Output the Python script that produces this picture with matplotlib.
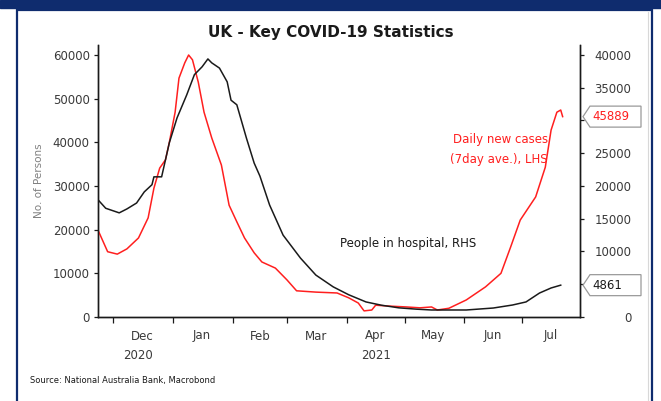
import numpy as np
import pandas as pd
import matplotlib
matplotlib.use("Agg")
import matplotlib.pyplot as plt
import matplotlib.transforms as mtransforms
from matplotlib.patches import Rectangle, Polygon

# daily new cases, 7 day average (LHS)
case_dates = ["2020-11-23", "2020-11-28", "2020-12-03", "2020-12-08", "2020-12-14",
              "2020-12-19", "2020-12-22", "2020-12-25", "2020-12-28", "2020-12-30",
              "2021-01-02", "2021-01-04", "2021-01-07", "2021-01-09", "2021-01-11",
              "2021-01-14", "2021-01-17", "2021-01-21", "2021-01-26", "2021-01-30",
              "2021-02-03", "2021-02-07", "2021-02-12", "2021-02-16", "2021-02-23",
              "2021-03-01", "2021-03-06", "2021-03-16", "2021-03-27", "2021-04-02",
              "2021-04-07", "2021-04-10", "2021-04-14", "2021-04-16", "2021-04-23",
              "2021-05-02", "2021-05-09", "2021-05-15", "2021-05-18", "2021-05-24",
              "2021-06-02", "2021-06-12", "2021-06-20", "2021-06-25", "2021-06-30",
              "2021-07-08", "2021-07-13", "2021-07-16", "2021-07-19", "2021-07-21",
              "2021-07-22"]
cases = [19900, 14950, 14400, 15600, 18100,
         22700, 29500, 34100, 36000, 40000,
         46900, 54700, 58200, 60000, 58900,
         53800, 46900, 41000, 34800, 25600,
         21800, 18100, 14700, 12600, 11200,
         8500, 6000, 5700, 5500, 4400,
         3200, 1400, 1600, 2700, 2500,
         2300, 2100, 2300, 1600, 2000,
         3900, 6900, 10000, 16000, 22200,
         27500, 34300, 42800, 46900, 47400,
         45889]

# people in hospital (RHS)
hosp_dates = ["2020-11-23", "2020-11-27", "2020-11-30", "2020-12-04", "2020-12-08",
              "2020-12-13", "2020-12-17", "2020-12-21", "2020-12-22", "2020-12-26",
              "2020-12-30", "2021-01-03", "2021-01-08", "2021-01-12", "2021-01-16",
              "2021-01-19", "2021-01-21", "2021-01-25", "2021-01-29", "2021-01-31",
              "2021-02-03", "2021-02-08", "2021-02-12", "2021-02-15", "2021-02-20",
              "2021-02-27", "2021-03-08", "2021-03-16", "2021-03-25", "2021-04-02",
              "2021-04-11", "2021-04-19", "2021-04-28", "2021-05-07", "2021-05-15",
              "2021-06-02", "2021-06-16", "2021-06-26", "2021-07-03", "2021-07-10",
              "2021-07-16", "2021-07-21"]
hospital = [17900, 16600, 16300, 15900, 16500,
            17400, 19100, 20200, 21400, 21400,
            26600, 30400, 33900, 37000, 38200,
            39400, 38800, 38000, 35900, 33100,
            32400, 27300, 23500, 21500, 17100,
            12500, 9000, 6400, 4600, 3400,
            2300, 1800, 1400, 1200, 1070,
            1070, 1370, 1830, 2300, 3660,
            4430, 4861]

left_ticks = [0, 10000, 20000, 30000, 40000, 50000, 60000]
right_ticks = [0, 5000, 10000, 15000, 20000, 25000, 30000, 35000, 40000]
# 5000 and 30000 sit under the value tags, so they carry no label
right_labels = ["0", "", "10000", "15000", "20000", "25000", "", "35000", "40000"]
month_starts = ["2020-12-01", "2021-01-01", "2021-02-01", "2021-03-01", "2021-04-01",
                "2021-05-01", "2021-06-01", "2021-07-01"]
month_mids = ["2020-12-16", "2021-01-16", "2021-02-15", "2021-03-16", "2021-04-16",
              "2021-05-16", "2021-06-16", "2021-07-16"]
month_names = ["Dec", "Jan", "Feb", "Mar", "Apr", "May", "Jun", "Jul"]
years = ["2020", "2021"]
year_pos = ["2020-12-14", "2021-04-16"]

RED = "#ff1f1f"
INK = "#1a1a1a"
TXT = "#3a3a3a"
NAVY = "#0f2c6e"

plt.rcParams["font.family"] = ["DejaVu Sans"]

fig = plt.figure(figsize=(6.61, 4.01), dpi=100)
W, H = 661, 401

# frame
fig.patches.append(Rectangle((0, 1 - 8 / H), 1, 8 / H, transform=fig.transFigure,
                             color=NAVY, zorder=0))
fig.patches.append(Rectangle((16.5 / W, -0.01), (652 - 16.5) / W, (391.5 + 4) / H,
                             transform=fig.transFigure, fill=False,
                             edgecolor=NAVY, lw=1.6, zorder=0))
fig.add_artist(plt.Line2D([648 / W, 648 / W], [0, 1 - 12 / H], transform=fig.transFigure,
                          color="#d8d8d8", lw=0.8))

ax = fig.add_axes([98 / W, 1 - 317 / H, (580 - 98) / W, (317 - 45) / H])
ax2 = ax.twinx()

cd = pd.to_datetime(case_dates)
hd = pd.to_datetime(hosp_dates)
ax.plot(cd, cases, color=RED, lw=1.1, zorder=3)
ax2.plot(hd, hospital, color=INK, lw=1.1)

ax.set_xlim(pd.Timestamp("2020-11-23"), pd.Timestamp("2021-07-31"))
ax.set_ylim(0, 62290)
ax2.set_ylim(0, 62290 * 40000 / 60000)
ax.set_yticks(left_ticks)
ax2.set_yticks(right_ticks)
ax2.set_yticklabels(right_labels)

for a in (ax, ax2):
    a.spines["top"].set_visible(False)
    for s in ("left", "right", "bottom"):
        a.spines[s].set_color(INK)
        a.spines[s].set_linewidth(1.0)
    a.tick_params(axis="y", labelsize=8.5, labelcolor=TXT, length=3, width=0.9,
                  color=INK, pad=3)
ax2.tick_params(axis="y", pad=34)
for lab in ax2.get_yticklabels():
    lab.set_horizontalalignment("right")

ax.set_xticks(pd.to_datetime(month_starts))
ax.set_xticklabels([])
ax.set_xticks(pd.to_datetime(month_mids), minor=True)
ax.set_xticklabels(month_names, minor=True)
ax.tick_params(axis="x", which="major", length=4, width=0.9, color=INK)
ax.tick_params(axis="x", which="minor", length=0, labelsize=8.5, labelcolor=TXT, pad=9)

btrans = mtransforms.blended_transform_factory(ax.transData, ax.transAxes)
for y, p in zip(years, pd.to_datetime(year_pos)):
    ax.text(p, -0.14, y, transform=btrans, ha="center", va="center",
            fontsize=8.5, color=TXT)

ax.set_ylabel("No. of Persons", fontsize=7.5, color="#808080", labelpad=6)

fig.text(331 / W, 1 - 33 / H, "UK - Key COVID-19 Statistics", ha="center", va="center",
         fontsize=11, fontweight="bold", color=INK)

fig.text(548 / W, 1 - 140 / H, "Daily new cases", color=RED, fontsize=8.5,
         ha="right", va="center")
fig.text(548 / W, 1 - 160 / H, "(7day ave.), LHS", color=RED, fontsize=8.5,
         ha="right", va="center")
fig.text(340 / W, 1 - 244 / H, "People in hospital, RHS", color=INK, fontsize=8.5,
         ha="left", va="center")

fig.text(30 / W, 1 - 380 / H, "Source: National Australia Bank, Macrobond", fontsize=6,
         color=INK, ha="left", va="center")

# value tags on the right axis
fig.canvas.draw()
def tag(yval, label, color, axis):
    _, ypix = axis.transData.transform((0, yval))
    x0, x1, h = 590, 641, 10.5
    xs = [583, x0, x1, x1, x0]
    ys = [ypix, ypix + h, ypix + h, ypix - h, ypix - h]
    poly = Polygon(list(zip(xs, ys)), closed=True, transform=None, facecolor="white",
                   edgecolor="#9a9a9a", lw=0.9, clip_on=False)
    fig.patches.append(poly)
    fig.text((x0 + 2) / W, ypix / H, label, color=color, fontsize=8.5, ha="left",
             va="center")

tag(cases[-1], f"{cases[-1]}", RED, ax)
tag(hospital[-1], f"{hospital[-1]}", INK, ax2)

fig.savefig("out.png", dpi=100)
